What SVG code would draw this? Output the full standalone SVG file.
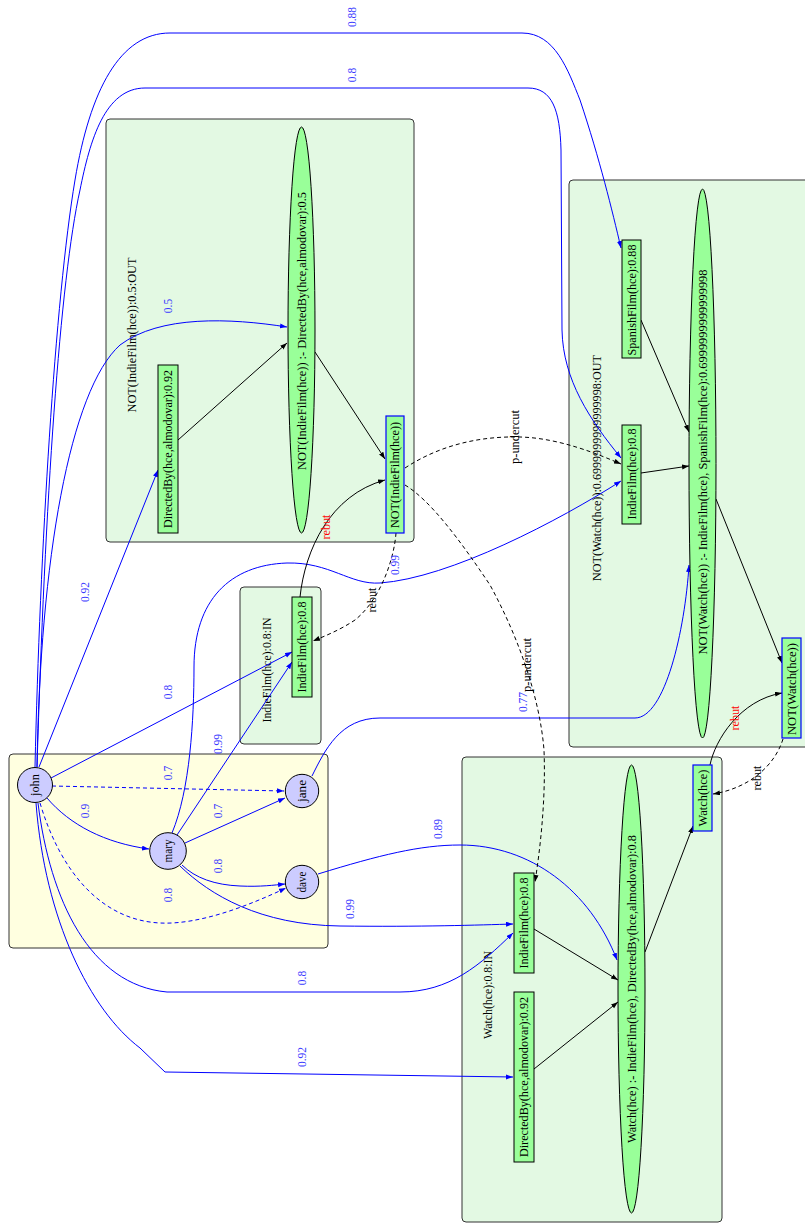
<svg xmlns="http://www.w3.org/2000/svg" width="805" height="1226" viewBox="0 0 805 1226">
<style>
.t{font-family:"Liberation Serif","DejaVu Serif",serif;font-size:11.5px;text-anchor:middle;dominant-baseline:central;fill:#000}
.bl{fill:#3b3bff}
.rd{fill:#ff0000}
.e{fill:none;stroke-width:1}
.eb{stroke:#0000ff}
.ek{stroke:#000}
.d{stroke-dasharray:4,3}
.cl{fill:#e3f9e3;stroke:#333;stroke-width:1}
.cy{fill:#ffffe0;stroke:#333;stroke-width:1}
.bx{fill:#99ff99;stroke:#000;stroke-width:1}
.bxb{fill:#99ff99;stroke:#0000ff;stroke-width:1.2}
.p{fill:#ccccff;stroke:#000;stroke-width:1}
</style>
<defs>
<marker id="ab" markerUnits="userSpaceOnUse" markerWidth="8" markerHeight="6" refX="7" refY="2.5" orient="auto"><path d="M0,0 L7,2.5 L0,5 z" fill="#0000ff"/></marker>
<marker id="ak" markerUnits="userSpaceOnUse" markerWidth="8" markerHeight="6" refX="7" refY="2.5" orient="auto"><path d="M0,0 L7,2.5 L0,5 z" fill="#000"/></marker>
</defs>
<rect width="805" height="1226" fill="#fff"/>

<g id="clusters">
<g id="cluster_people"><rect class="cy" x="9" y="754" width="319" height="194" rx="4"/></g>
<g id="cluster_notindie"><rect class="cl" x="106" y="119" width="308" height="423" rx="4"/>
<text class="t" transform="rotate(-90 132 335)" x="132" y="335" textLength="155" lengthAdjust="spacingAndGlyphs">NOT(IndieFilm(hce)):0.5:OUT</text></g>
<g id="cluster_indie"><rect class="cl" x="240" y="587" width="81" height="157" rx="4"/>
<text class="t" transform="rotate(-90 267 670)" x="267" y="670" textLength="105" lengthAdjust="spacingAndGlyphs">IndieFilm(hce):0.8:IN</text></g>
<g id="cluster_notwatch"><rect class="cl" x="569" y="180" width="250" height="567" rx="4"/>
<text class="t" transform="rotate(-90 597 468)" x="597" y="468" textLength="226" lengthAdjust="spacingAndGlyphs">NOT(Watch(hce)):0.6999999999999998:OUT</text></g>
<g id="cluster_watch"><rect class="cl" x="462" y="757" width="260" height="465" rx="4"/>
<text class="t" transform="rotate(-90 488 995)" x="488" y="995" textLength="88" lengthAdjust="spacingAndGlyphs">Watch(hce):0.8:IN</text></g>
</g>

<g id="connectors">
<path class="e eb d" d="M52,786 L284,791" marker-end="url(#ab)"/>
<path class="e eb" d="M47,798 C70,825 105,843 149,849" marker-end="url(#ab)"/>
<path class="e eb d" d="M40,803 C60,870 100,920 160,923 C200,925 250,905 286,888" marker-end="url(#ab)"/>
<path class="e eb" d="M185,843 L285,798" marker-end="url(#ab)"/>
<path class="e eb" d="M182,865 C195,878 215,885 240,886 C260,887 275,885 285,884" marker-end="url(#ab)"/>
<path class="e eb" d="M180,866 C210,895 260,925 340,926 C420,927 480,925 513,924" marker-end="url(#ab)"/>
<path class="e eb" d="M318,874 C380,855 420,845 460,845 C530,845 590,890 617,960" marker-end="url(#ab)"/>
<path class="e eb" d="M312,776 C325,750 340,718 380,718 L635,718 C665,718 685,630 689,565" marker-end="url(#ab)"/>
<path class="e eb" d="M35,767 C40,550 55,300 75,180 C90,90 120,33 170,33 L522,33 C555,33 568,70 580,100 C600,160 612,210 621,248" marker-end="url(#ab)"/>
<path class="e eb" d="M37,767 C45,500 60,280 80,190 C90,140 105,88 145,88 L528,88 C552,88 560,110 561,150 L562,330 C563,380 590,420 621,458" marker-end="url(#ab)"/>
<path class="e eb" d="M37,767 C40,560 70,390 120,345 C160,315 230,318 287,327" marker-end="url(#ab)"/>
<path class="e eb" d="M39,767 L158,470" marker-end="url(#ab)"/>
<path class="e eb" d="M51,778 L292,652" marker-end="url(#ab)"/>
<path class="e eb" d="M177,835 L292,662" marker-end="url(#ab)"/>
<path class="e eb" d="M172,833 C190,790 194,720 194,667 C194,600 230,565 287,563 C330,562 350,585 380,583 C450,578 560,520 621,481" marker-end="url(#ab)"/>
<path class="e eb" d="M38,803 C50,900 90,985 167,992 L400,992 C450,992 480,965 513,933" marker-end="url(#ab)"/>
<path class="e eb" d="M36,803 C45,920 90,1010 140,1048 L165,1072 L513,1077" marker-end="url(#ab)"/>

<path class="e ek" d="M178,440 L287,343" marker-end="url(#ak)"/>
<path class="e ek" d="M315,352 L385,459" marker-end="url(#ak)"/>
<path class="e ek" d="M300,597 C305,550 330,495 385,480" marker-end="url(#ak)"/>
<path class="e ek d" d="M396,533 C394,560 380,600 355,620 C340,630 325,636 313,641" marker-end="url(#ak)"/>
<path class="e ek d" d="M405,468 C440,445 480,436 520,437 C560,438 600,455 621,464" marker-end="url(#ak)"/>
<path class="e ek d" d="M405,485 C430,500 460,540 490,585 C520,640 540,700 544,750 C546,800 540,850 535,882" marker-end="url(#ak)"/>
<path class="e ek" d="M641,320 L689,432" marker-end="url(#ak)"/>
<path class="e ek" d="M641,473 L689,466" marker-end="url(#ak)"/>
<path class="e ek" d="M716,499 L782,663" marker-end="url(#ak)"/>
<path class="e ek" d="M710,765 C715,740 740,700 782,693" marker-end="url(#ak)"/>
<path class="e ek d" d="M783,739 C775,765 750,788 713,794" marker-end="url(#ak)"/>
<path class="e ek" d="M534,929 L618,980" marker-end="url(#ak)"/>
<path class="e ek" d="M534,1069 L618,1002" marker-end="url(#ak)"/>
<path class="e ek" d="M645,952 L693,826" marker-end="url(#ak)"/>

<text class="t bl" transform="rotate(-90 352 17)" x="352" y="17">0.88</text>
<text class="t bl" transform="rotate(-90 352 75)" x="352" y="75">0.8</text>
<text class="t bl" transform="rotate(-90 168 306)" x="168" y="306">0.5</text>
<text class="t bl" transform="rotate(-90 85 592)" x="85" y="592">0.92</text>
<text class="t bl" transform="rotate(-90 168 692)" x="168" y="692">0.8</text>
<text class="t bl" transform="rotate(-90 218 744)" x="218" y="744">0.99</text>
<text class="t bl" transform="rotate(-90 395 565)" x="395" y="565">0.99</text>
<text class="t bl" transform="rotate(-90 523 702)" x="523" y="702">0.77</text>
<text class="t bl" transform="rotate(-90 168 773)" x="168" y="773">0.7</text>
<text class="t bl" transform="rotate(-90 85 811)" x="85" y="811">0.9</text>
<text class="t bl" transform="rotate(-90 218 811)" x="218" y="811">0.7</text>
<text class="t bl" transform="rotate(-90 218 866)" x="218" y="866">0.8</text>
<text class="t bl" transform="rotate(-90 168 895)" x="168" y="895">0.8</text>
<text class="t bl" transform="rotate(-90 438 829)" x="438" y="829">0.89</text>
<text class="t bl" transform="rotate(-90 350 909)" x="350" y="909">0.99</text>
<text class="t bl" transform="rotate(-90 302 978)" x="302" y="978">0.8</text>
<text class="t bl" transform="rotate(-90 302 1057)" x="302" y="1057">0.92</text>
<text class="t rd" transform="rotate(-90 326 527)" x="326" y="527" textLength="25" lengthAdjust="spacingAndGlyphs">rebut</text>
<text class="t rd" transform="rotate(-90 735 718)" x="735" y="718" textLength="25" lengthAdjust="spacingAndGlyphs">rebut</text>
<text class="t" transform="rotate(-90 372 600)" x="372" y="600" textLength="25" lengthAdjust="spacingAndGlyphs">rebut</text>
<text class="t" transform="rotate(-90 757 778)" x="757" y="778" textLength="25" lengthAdjust="spacingAndGlyphs">rebut</text>
<text class="t" transform="rotate(-90 515 437)" x="515" y="437" textLength="54" lengthAdjust="spacingAndGlyphs">p-undercut</text>
<text class="t" transform="rotate(-90 527 665)" x="527" y="665" textLength="54" lengthAdjust="spacingAndGlyphs">p-undercut</text>
</g>

<g id="john"><circle class="p" cx="35" cy="785" r="17.5"/><text class="t" transform="rotate(-90 35 785)" x="35" y="785" textLength="22" lengthAdjust="spacingAndGlyphs">john</text></g>
<g id="jane"><circle class="p" cx="302" cy="791" r="16.7"/><text class="t" transform="rotate(-90 302 791)" x="302" y="791" textLength="22" lengthAdjust="spacingAndGlyphs">jane</text></g>
<g id="mary"><circle class="p" cx="168" cy="851" r="18.3"/><text class="t" transform="rotate(-90 168 851)" x="168" y="851" textLength="23" lengthAdjust="spacingAndGlyphs">mary</text></g>
<g id="dave"><circle class="p" cx="302" cy="882" r="16.7"/><text class="t" transform="rotate(-90 302 882)" x="302" y="882" textLength="21" lengthAdjust="spacingAndGlyphs">dave</text></g>

<g id="n_dirby1"><rect class="bx" x="158" y="365" width="20" height="168"/><text class="t" transform="rotate(-90 168 449)" x="168" y="449" textLength="158" lengthAdjust="spacingAndGlyphs">DirectedBy(hce,almodovar):0.92</text></g>
<g id="n_rule1"><ellipse class="bx" cx="301.5" cy="330" rx="13.5" ry="203"/><text class="t" transform="rotate(-90 301.5 331)" x="301.5" y="331" textLength="278" lengthAdjust="spacingAndGlyphs">NOT(IndieFilm(hce)) :- DirectedBy(hce,almodovar):0.5</text></g>
<g id="n_notindie"><rect class="bxb" x="386" y="416" width="18" height="117"/><text class="t" transform="rotate(-90 395 475)" x="395" y="475" textLength="106" lengthAdjust="spacingAndGlyphs">NOT(IndieFilm(hce))</text></g>

<g id="n_indie_in"><rect class="bx" x="292" y="597" width="20" height="100"/><text class="t" transform="rotate(-90 302 647)" x="302" y="647" textLength="91" lengthAdjust="spacingAndGlyphs">IndieFilm(hce):0.8</text></g>

<g id="n_spanish"><rect class="bx" x="622" y="240" width="19" height="118"/><text class="t" transform="rotate(-90 631.5 300)" x="631.5" y="300" textLength="111" lengthAdjust="spacingAndGlyphs">SpanishFilm(hce):0.88</text></g>
<g id="n_indie2"><rect class="bx" x="622" y="425" width="19" height="99"/><text class="t" transform="rotate(-90 631.5 474)" x="631.5" y="474" textLength="91" lengthAdjust="spacingAndGlyphs">IndieFilm(hce):0.8</text></g>
<g id="n_rule2"><ellipse class="bx" cx="702.5" cy="463.5" rx="13.5" ry="274.5"/><text class="t" transform="rotate(-90 702.5 462)" x="702.5" y="462" textLength="385" lengthAdjust="spacingAndGlyphs">NOT(Watch(hce)) :- IndieFilm(hce), SpanishFilm(hce):0.6999999999999998</text></g>
<g id="n_notwatch"><rect class="bxb" x="782" y="638" width="19" height="100"/><text class="t" transform="rotate(-90 791.5 689)" x="791.5" y="689" textLength="92" lengthAdjust="spacingAndGlyphs">NOT(Watch(hce))</text></g>

<g id="n_indie3"><rect class="bx" x="514" y="873" width="20" height="100"/><text class="t" transform="rotate(-90 524 923)" x="524" y="923" textLength="91" lengthAdjust="spacingAndGlyphs">IndieFilm(hce):0.8</text></g>
<g id="n_dirby2"><rect class="bx" x="514" y="992" width="20" height="170"/><text class="t" transform="rotate(-90 524 1077)" x="524" y="1077" textLength="160" lengthAdjust="spacingAndGlyphs">DirectedBy(hce,almodovar):0.92</text></g>
<g id="n_rule3"><ellipse class="bx" cx="631.5" cy="989" rx="13.5" ry="224"/><text class="t" transform="rotate(-90 631.5 989)" x="631.5" y="989" textLength="308" lengthAdjust="spacingAndGlyphs">Watch(hce) :- IndieFilm(hce), DirectedBy(hce,almodovar):0.8</text></g>
<g id="n_watch"><rect class="bxb" x="693" y="765" width="19" height="66"/><text class="t" transform="rotate(-90 702.5 798)" x="702.5" y="798" textLength="57" lengthAdjust="spacingAndGlyphs">Watch(hce)</text></g>
</svg>
